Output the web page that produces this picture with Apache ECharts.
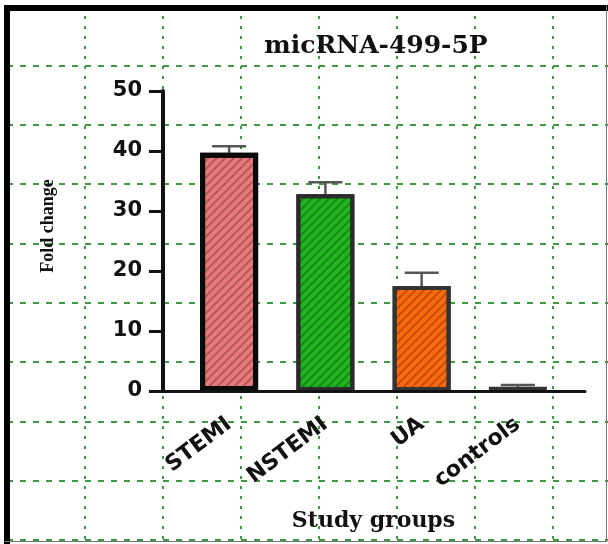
<!DOCTYPE html>
<html>
<head>
<meta charset="utf-8">
<script src="https://cdn.jsdelivr.net/npm/echarts@6/dist/echarts.min.js"></script>
<style>
  html, body { margin: 0; padding: 0; background: #fff; }
  #wrap { position: relative; width: 608px; height: 544px; }
  #chart { position: absolute; left: 0; top: 0; width: 608px; height: 544px; }
  .frame { position: absolute; pointer-events: none; }
</style>
</head>
<body>
<div id="wrap">
  <div id="chart"></div>
  <div class="frame" style="left:4px;top:5px;width:604px;height:6px;background:#000;"></div>
  <div class="frame" style="left:4px;top:5px;width:6px;height:539px;background:#000;"></div>
  <div class="frame" style="left:606px;top:5px;width:1px;height:536px;background:#777;"></div>
  <div class="frame" style="left:4px;top:541px;width:603px;height:1px;background:#777;"></div>
</div>
<script>
// study groups and fold change of micRNA-499-5P
const groups = ['STEMI', 'NSTEMI', 'UA', 'controls'];
const foldChange = [39.7, 32.8, 17.5, 0.7];
const errorBar = [1.1, 2.0, 2.2, 0.3];
const yTicks = [0, 10, 20, 30, 40, 50];

const fills = ['#ea7a7a', '#1fb51f', '#ff6a0e', '#444'];
const borders = ['#0a0a0a', '#2b2b2b', '#333', '#333'];
const borderW = [5, 4, 4, 4];

const chart = echarts.init(document.getElementById('chart'));

// hatch going up to the right, like ///
const hatch = {
  symbol: 'rect',
  color: 'rgba(0,0,0,0.25)',
  dashArrayX: [1, 0],
  dashArrayY: [2, 4],
  rotation: -Math.PI / 4
};

const serif = 'DejaVu Serif';
const sans = 'DejaVu Sans';

chart.setOption({
  animation: false,
  backgroundColor: '#fff',
  title: {
    text: 'micRNA-499-5P',
    left: 371,
    top: 29,
    textAlign: 'center',
    textStyle: { fontFamily: serif, fontWeight: 'bold', fontSize: 25, color: '#111' }
  },
  graphic: [
    {
      type: 'text',
      x: 48,
      y: 226,
      rotation: Math.PI / 2,
      style: {
        text: 'Fold change',
        fontFamily: 'Liberation Serif',
        fontWeight: 'bold',
        fontSize: 18,
        fill: '#111',
        align: 'center',
        verticalAlign: 'middle'
      }
    }
  ],
  grid: [
    // bars
    { left: 181, right: 42, top: 91, bottom: 153, outerBoundsMode: 'none' },
    // x axis line extending past the bars
    { left: 163, right: 23, top: 91, bottom: 153, outerBoundsMode: 'none' },
    // green dashed background grid
    { left: 7, top: 6, width: 624, height: 534, outerBoundsMode: 'none' }
  ],
  xAxis: [
    {
      type: 'category',
      gridIndex: 0,
      z: 10,
      data: groups,
      name: 'Study groups',
      nameLocation: 'middle',
      nameGap: 119,
      nameTextStyle: { fontFamily: serif, fontWeight: 'bold', fontSize: 22, color: '#111' },
      axisLine: { show: false },
      axisTick: { alignWithLabel: true, length: 11, lineStyle: { color: '#111', width: 3 } },
      axisLabel: {
        rotate: 37,
        margin: 31,
        fontFamily: sans,
        fontWeight: 'bold',
        fontSize: 22,
        color: '#111'
      }
    },
    {
      type: 'value',
      gridIndex: 1,
      z: 10,
      min: 0,
      max: 1,
      axisLine: { show: true, lineStyle: { color: '#111', width: 3 } },
      axisTick: { show: false },
      axisLabel: { show: false },
      splitLine: { show: false }
    },
    {
      type: 'value',
      gridIndex: 2,
      min: 0,
      max: 8,
      interval: 1,
      z: -1,
      axisLine: { show: false },
      axisTick: { show: false },
      axisLabel: { show: false },
      splitLine: { show: true, lineStyle: { color: '#3f9a3f', width: 2, type: [3, 7] } }
    }
  ],
  yAxis: [
    {
      type: 'value',
      gridIndex: 0,
      z: 10,
      min: 0,
      max: 50,
      interval: 10,
      offset: 18,
      axisLine: { show: true, lineStyle: { color: '#111', width: 4 } },
      axisTick: { show: true, length: 14, lineStyle: { color: '#111', width: 3 } },
      axisLabel: {
        margin: 21,
        fontFamily: sans,
        fontWeight: 'bold',
        fontSize: 21,
        color: '#111',
        formatter: v => (yTicks.indexOf(v) >= 0 ? String(v) : '')
      },
      splitLine: { show: false }
    },
    {
      type: 'value',
      gridIndex: 1,
      show: false,
      min: 0,
      max: 50
    },
    {
      type: 'value',
      gridIndex: 2,
      min: 0,
      max: 9,
      interval: 1,
      z: -1,
      axisLine: { show: false },
      axisTick: { show: false },
      axisLabel: { show: false },
      splitLine: { show: true, lineStyle: { color: '#3f9a3f', width: 2, type: [6, 7] } }
    }
  ],
  series: [
    {
      type: 'bar',
      xAxisIndex: 0,
      yAxisIndex: 0,
      barWidth: 58,
      z: 3,
      data: foldChange.map((v, i) => ({
        value: v,
        itemStyle: {
          color: fills[i],
          borderColor: borders[i],
          borderWidth: borderW[i],
          decal: i < 3 ? hatch : null
        }
      }))
    },
    {
      type: 'custom',
      xAxisIndex: 0,
      yAxisIndex: 0,
      z: 2,
      data: foldChange.map((v, i) => [i, v, v + errorBar[i]]),
      renderItem: (params, api) => {
        const base = api.coord([api.value(0), api.value(1)]);
        const top = api.coord([api.value(0), api.value(2)]);
        const half = 17;
        const style = { stroke: '#555', lineWidth: 2.5 };
        return {
          type: 'group',
          children: [
            { type: 'line', shape: { x1: base[0], y1: base[1], x2: top[0], y2: top[1] }, style },
            { type: 'line', shape: { x1: top[0] - half, y1: top[1], x2: top[0] + half, y2: top[1] }, style }
          ]
        };
      }
    }
  ]
});
</script>
</body>
</html>
